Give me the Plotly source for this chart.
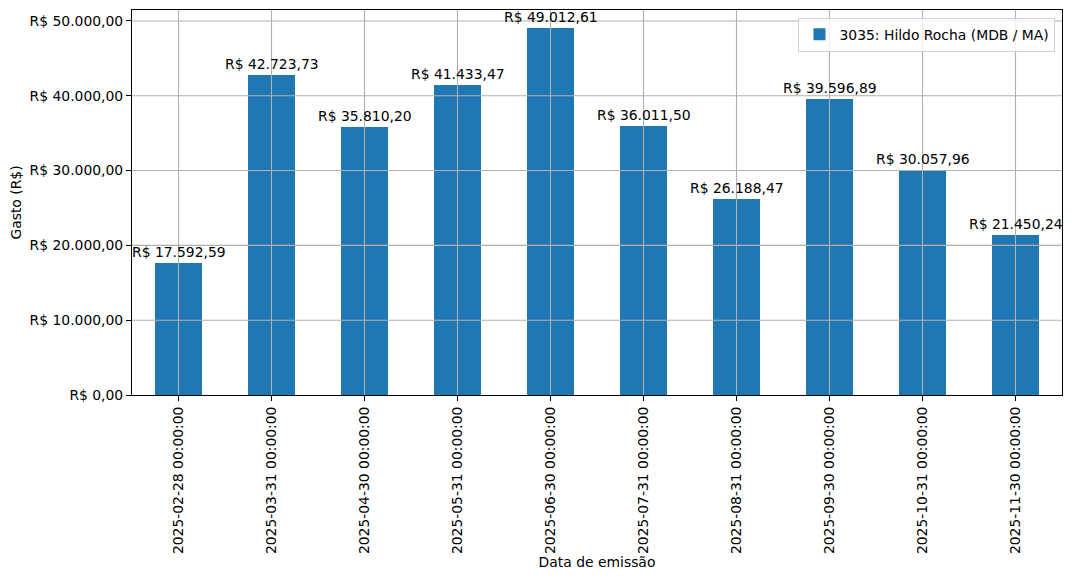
import plotly.graph_objects as go

datas = ["2025-02-28 00:00:00", "2025-03-31 00:00:00", "2025-04-30 00:00:00",
         "2025-05-31 00:00:00", "2025-06-30 00:00:00", "2025-07-31 00:00:00",
         "2025-08-31 00:00:00", "2025-09-30 00:00:00", "2025-10-31 00:00:00",
         "2025-11-30 00:00:00"]
gastos = [17592.59, 42723.73, 35810.20, 41433.47, 49012.61, 36011.50,
          26188.47, 39596.89, 30057.96, 21450.24]
serie = "3035: Hildo Rocha (MDB / MA)"
y_ticks = [0, 10000, 20000, 30000, 40000, 50000]


def brl(v):
    s = f"{v:,.2f}"
    s = s.replace(",", "X").replace(".", ",").replace("X", ".")
    return "R$ " + s


y_ticktext = [brl(v) for v in y_ticks]
xs = list(range(len(datas)))

font = "DejaVu Sans"
fs = 13.9
grid_color = "#b0b0b0"
fig = go.Figure()
fig.add_trace(go.Bar(x=xs, y=gastos, width=0.5, name=serie,
                     marker=dict(color="#1f77b4", line=dict(width=0)),
                     showlegend=True))

for x, v in zip(xs, gastos):
    fig.add_annotation(x=x, y=v, xref="x", yref="y", text=brl(v),
                       showarrow=False, yanchor="bottom", yshift=1,
                       font=dict(family=font, size=fs, color="black"))

# grid lines drawn above the bars, as in the reference
for x in xs:
    fig.add_shape(type="line", xref="x", yref="paper", x0=x, x1=x, y0=0, y1=1,
                  line=dict(color=grid_color, width=1.1), layer="above")
for yv in y_ticks[1:]:
    fig.add_shape(type="line", xref="paper", yref="y", x0=0, x1=1, y0=yv, y1=yv,
                  line=dict(color=grid_color, width=1.1), layer="above")

fig.update_layout(
    width=1064, height=572,
    margin=dict(l=124, r=10, t=2, b=185),
    paper_bgcolor="white", plot_bgcolor="white",
    font=dict(family=font, size=fs, color="black"),
    bargap=0,
    legend=dict(x=0.993, y=0.98, xanchor="right", yanchor="top",
                bgcolor="rgba(255,255,255,0.8)", bordercolor="#d0d0d0",
                borderwidth=1, font=dict(family=font, size=fs)),
    xaxis=dict(
        range=[-0.5, len(datas) - 0.5],
        tickvals=xs, ticktext=datas, tickangle=-90,
        showgrid=False,
        showline=True, linecolor="black", linewidth=1, mirror=True,
        ticks="outside", ticklen=5, tickcolor="black",
        layer="above traces", zeroline=False,
        title=dict(text="Data de emissão", font=dict(family=font, size=fs), standoff=4),
    ),
    yaxis=dict(
        range=[0, max(gastos) * 1.05],
        tickvals=y_ticks, ticktext=y_ticktext,
        showgrid=False,
        showline=True, linecolor="black", linewidth=1, mirror=True,
        ticks="outside", ticklen=5, tickcolor="black",
        layer="above traces", zeroline=False,
        title=dict(text="Gasto (R$)", font=dict(family=font, size=fs), standoff=8),
    ),
)

fig.write_html("out.html")
